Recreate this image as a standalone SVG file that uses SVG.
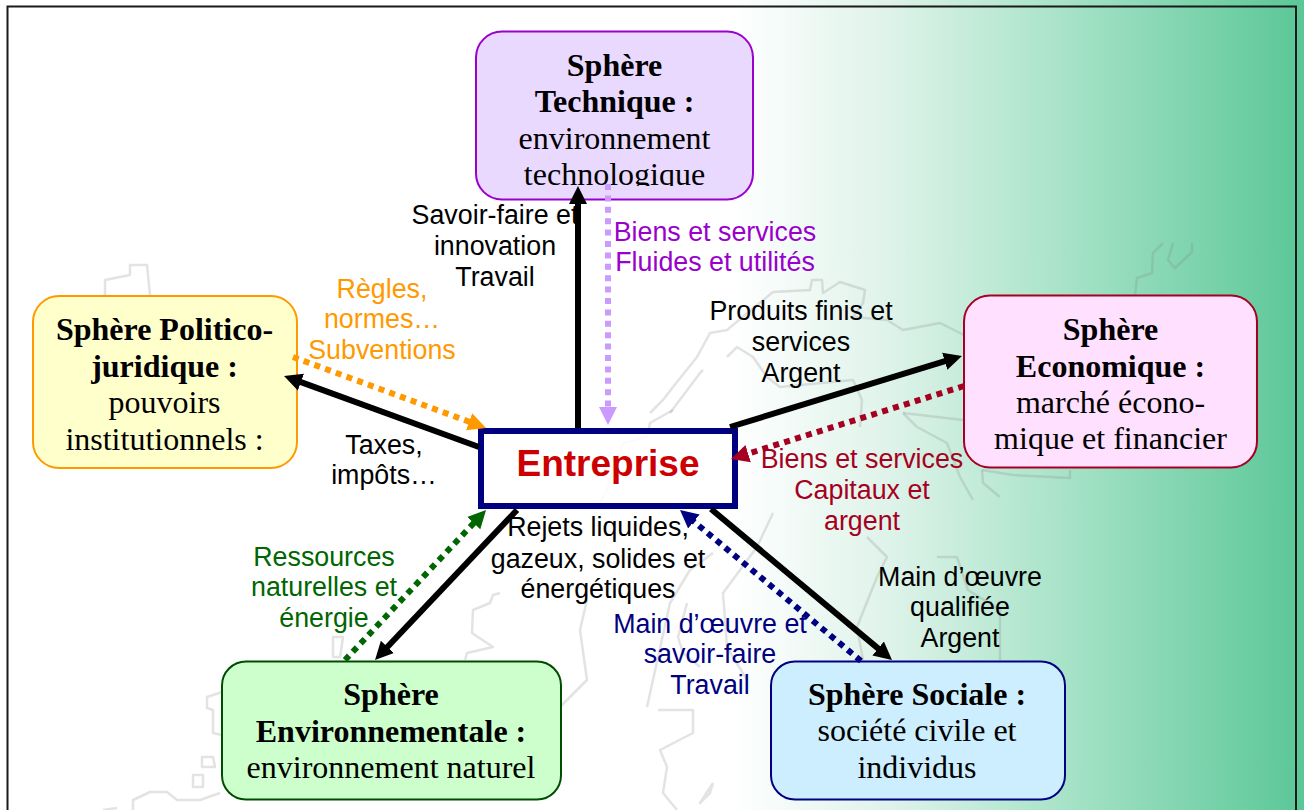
<svg xmlns="http://www.w3.org/2000/svg" width="1304" height="810" viewBox="0 0 1304 810">
<style>
.n{font-family:"Liberation Serif","Times New Roman",serif;font-size:32px;text-anchor:middle;fill:#000}
.b{font-weight:bold}
.l{font-family:"Liberation Sans",Arial,sans-serif;font-size:26.8px;text-anchor:middle}
.box{stroke-width:2}
.c{fill:none;stroke-width:6}
.d{fill:none;stroke-width:6;stroke-dasharray:6 5.4}
.map{fill:none;stroke:#808080;stroke-opacity:.22;stroke-width:2.5;stroke-linejoin:round}
</style>
<defs>
<linearGradient id="bg" x1="0" y1="0" x2="1304" y2="0" gradientUnits="userSpaceOnUse">
<stop offset=".56" stop-color="#fff"/><stop offset=".68" stop-color="#dff3ea"/><stop offset=".8" stop-color="#aee5cc"/><stop offset="1" stop-color="#5ac797"/>
</linearGradient>
<clipPath id="techclip"><rect x="476" y="31" width="277" height="155"/></clipPath>
<marker id="mk" markerUnits="userSpaceOnUse" markerWidth="22" markerHeight="22" refX="8" refY="10" orient="auto"><path d="M0 1L18 10L0 19Z" fill="#000"/></marker>
<marker id="mo" markerUnits="userSpaceOnUse" markerWidth="22" markerHeight="22" refX="8" refY="10" orient="auto"><path d="M0 1L18 10L0 19Z" fill="#ff9900"/></marker>
<marker id="ml" markerUnits="userSpaceOnUse" markerWidth="22" markerHeight="22" refX="8" refY="10" orient="auto"><path d="M0 1L18 10L0 19Z" fill="#cc99ff"/></marker>
<marker id="mr" markerUnits="userSpaceOnUse" markerWidth="22" markerHeight="22" refX="8" refY="10" orient="auto"><path d="M0 1L18 10L0 19Z" fill="#a50021"/></marker>
<marker id="mg" markerUnits="userSpaceOnUse" markerWidth="22" markerHeight="22" refX="8" refY="10" orient="auto"><path d="M0 1L18 10L0 19Z" fill="#006600"/></marker>
<marker id="mn" markerUnits="userSpaceOnUse" markerWidth="22" markerHeight="22" refX="8" refY="10" orient="auto"><path d="M0 1L18 10L0 19Z" fill="#000080"/></marker>
</defs>
<rect width="1304" height="810" fill="url(#bg)"/>
<g id="map" class="map">
<polyline points="650,413 663,400 673,387 697,357 710,333 727,330 773,292 810,290 812,280 822,280 823,293 840,282 865,290 863,303 853,317 887,320 903,330 940,323 964,335"/>
<polyline points="727,357 737,347 753,357 767,377 780,387 853,380 862,400 860,427"/>
<polyline points="670,413 700,373 703,370"/>
<polyline points="673,410 650,423 647,437 623,443 613,470 607,490 600,503"/>
<polyline points="1163,243 1153,253 1152,273 1137,278 1135,295"/>
<polyline points="1173,243 1168,260 1175,268 1192,252 1192,243"/>
<polyline points="903,413 917,427 947,443 960,477 973,500"/>
<polyline points="903,413 963,420"/>
<polyline points="982,470 983,483 1000,497"/>
<polyline points="982,470 1013,475 1070,478 1070,470"/>
<polyline points="105,295 105,280 130,275 130,265 147,265 150,295"/>
<polygon points="333,637 343,637 340,657 333,657"/>
<polyline points="222,692 207,697 207,708 213,710 213,733 222,735"/>
<polygon points="202,757 213,757 215,767 202,767"/>
<polygon points="193,775 203,775 203,787 193,787"/>
<polyline points="133,810 133,800 150,792 167,792 177,800 200,800 220,793"/>
<polyline points="103,810 117,808"/>
<polyline points="500,593 493,595 490,603 473,610 472,633 493,647 467,653 465,660"/>
<polyline points="687,603 678,637 683,653 700,667"/>
<polyline points="658,710 693,710 693,733 660,750 667,767 663,793 677,810"/>
<polyline points="713,783 700,803 710,793 713,783"/>
<polyline points="587,600 580,630 587,680 560,707 557,747"/>
<polyline points="713,553 690,570 670,603 647,707"/>
<polyline points="773,513 757,547 723,593 727,647 747,680"/>
<polyline points="867,537 887,557 877,577 857,627 863,660"/>
<polyline points="937,557 957,557 968,590 1000,610 1000,660"/>
</g>
<path d="M7.5 810V6.5H1296V810" fill="none" stroke="#1a1a1a" stroke-width="2"/>
<g id="politico">
<rect class="box" x="33" y="296" width="264" height="172" rx="26" fill="#ffffcc" stroke="#ff9900"/>
<text class="n b" x="164.5" y="340">Sphère Politico-</text>
<text class="n b" x="164.5" y="377">juridique :</text>
<text class="n" x="164.5" y="413">pouvoirs</text>
<text class="n" x="164.5" y="450">institutionnels :</text>
</g>
<g id="technique">
<rect class="box" x="476" y="31.500" width="277" height="168" rx="26" fill="#ead9ff" stroke="#9900cc"/>
<text class="n b" x="614.5" y="76">Sphère</text>
<text class="n b" x="614.5" y="112">Technique :</text>
<text class="n" x="614.5" y="149">environnement</text>
<text class="n" x="614.5" y="185" clip-path="url(#techclip)">technologique</text>
</g>
<g id="economique">
<rect class="box" x="964" y="295.500" width="293" height="172" rx="26" fill="#ffe1ff" stroke="#a50021"/>
<text class="n b" x="1110.5" y="340">Sphère</text>
<text class="n b" x="1110.5" y="377">Economique :</text>
<text class="n" x="1110.5" y="413">marché écono-</text>
<text class="n" x="1110.5" y="449">mique et financier</text>
</g>
<g id="environnementale">
<rect class="box" x="222" y="661.500" width="339" height="138" rx="24" fill="#ccffcc" stroke="#004d00"/>
<text class="n b" x="391" y="705">Sphère</text>
<text class="n b" x="391" y="742">Environnementale :</text>
<text class="n" x="391" y="778">environnement naturel</text>
</g>
<g id="sociale">
<rect class="box" x="771" y="661.500" width="294" height="138" rx="24" fill="#cceeff" stroke="#000080"/>
<text class="n b" x="917" y="705">Sphère Sociale :</text>
<text class="n" x="917" y="741">société civile et</text>
<text class="n" x="917" y="778">individus</text>
</g>
<g id="entreprise">
<rect x="481" y="431" width="254" height="75" fill="#fff" fill-opacity=".85" stroke="#000080" stroke-width="6"/>
<text x="608" y="476" font-family="'Liberation Sans',Arial,sans-serif" font-size="37" font-weight="bold" text-anchor="middle" fill="#cc0000">Entreprise</text>
</g>
<g id="connectors">
<line class="c" x1="578" y1="428" x2="578" y2="196" stroke="#000" marker-end="url(#mk)"/>
<line class="c" x1="479" y1="447" x2="293.400" y2="379.400" stroke="#000" marker-end="url(#mk)"/>
<line class="c" x1="730" y1="427" x2="952.400" y2="358.900" stroke="#000" marker-end="url(#mk)"/>
<line class="c" x1="517" y1="510" x2="381.900" y2="652.700" stroke="#000" marker-end="url(#mk)"/>
<line class="c" x1="711" y1="509" x2="884.300" y2="653.600" stroke="#000" marker-end="url(#mk)"/>
<line class="d" x1="293" y1="357" x2="476.600" y2="424.500" stroke="#ff9900" marker-end="url(#mo)"/>
<line class="d" x1="608" y1="184" x2="608" y2="415" stroke="#cc99ff" marker-end="url(#ml)"/>
<line class="d" x1="964" y1="386" x2="740.500" y2="456" stroke="#a50021" marker-end="url(#mr)"/>
<line class="d" x1="345" y1="660" x2="479.200" y2="517.300" stroke="#006600" marker-end="url(#mg)"/>
<line class="d" x1="861" y1="661" x2="687.700" y2="516.400" stroke="#000080" marker-end="url(#mn)"/>
</g>
<g id="labels">
<g class="l" fill="#000">
<text x="495" y="224">Savoir-faire et</text><text x="495" y="255">innovation</text><text x="495" y="286">Travail</text>
<text x="384" y="454">Taxes,</text><text x="384" y="484">impôts…</text>
<text x="801" y="320">Produits finis et</text><text x="801" y="351">services</text><text x="801" y="382">Argent</text>
<text x="598" y="536">Rejets liquides,</text><text x="598" y="568">gazeux, solides et</text><text x="598" y="598">énergétiques</text>
<text x="960" y="586">Main d’œuvre</text><text x="960" y="616">qualifiée</text><text x="960" y="647">Argent</text>
</g>
<g class="l" fill="#9900cc"><text x="715" y="241">Biens et services</text><text x="715" y="271">Fluides et utilités</text></g>
<g class="l" fill="#ff9900"><text x="382" y="298">Règles,</text><text x="382" y="328">normes…</text><text x="382" y="359">Subventions</text></g>
<g class="l" fill="#a50021"><text x="862" y="468">Biens et services</text><text x="862" y="499">Capitaux et</text><text x="862" y="530">argent</text></g>
<g class="l" fill="#006600"><text x="324" y="566">Ressources</text><text x="324" y="596">naturelles et</text><text x="324" y="627">énergie</text></g>
<g class="l" fill="#000080"><text x="710" y="633">Main d’œuvre et</text><text x="710" y="663">savoir-faire</text><text x="710" y="694">Travail</text></g>
</g>
</svg>
